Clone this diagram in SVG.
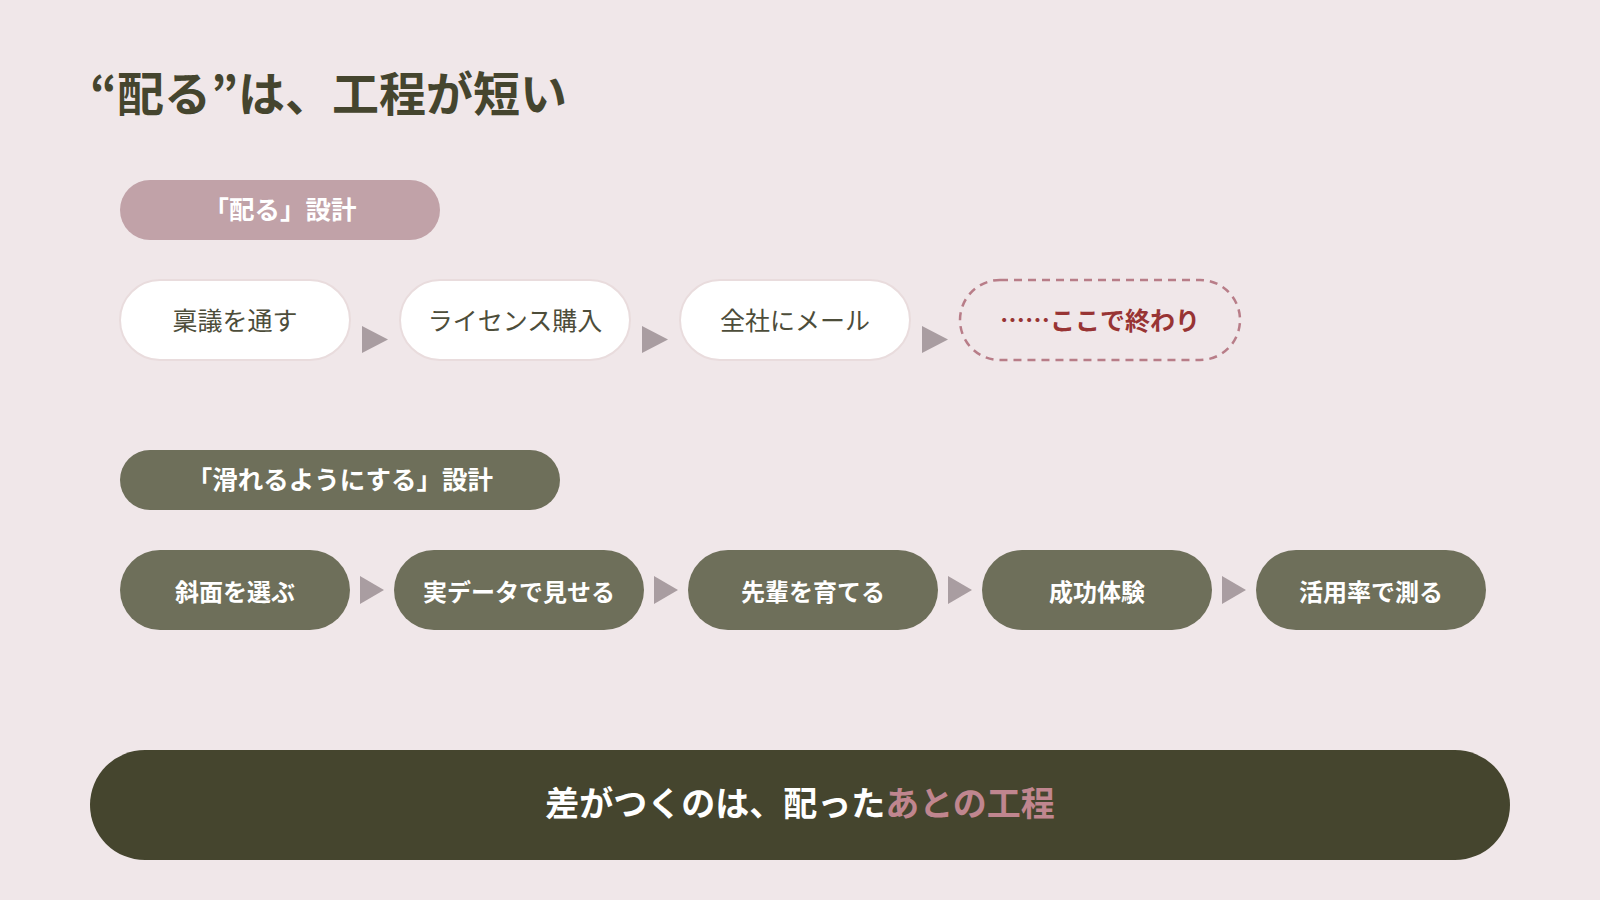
<svg xmlns="http://www.w3.org/2000/svg" width="1600" height="900" viewBox="0 0 1600 900">
  <style>
    text { font-family: "Noto Sans CJK JP", "Noto Sans", sans-serif; }
    .title { font-size: 47px; font-weight: 700; fill: #45452e; }
    .tag { font-size: 25.5px; font-weight: 700; fill: #ffffff; text-anchor: middle; }
    .n1 { fill: #ffffff; stroke: #e9dcdd; stroke-width: 2; }
    .n1t { font-size: 25px; font-weight: 400; fill: #4d4d3a; text-anchor: middle; }
    .end { fill: none; stroke: #b87d88; stroke-width: 2.5; stroke-dasharray: 8 6; }
    .endt { font-size: 25px; font-weight: 700; fill: #983434; text-anchor: middle; }
    .n2 { fill: #6e6f5a; }
    .n2t { font-size: 24px; font-weight: 700; fill: #ffffff; text-anchor: middle; }
    .arr { fill: #a99da1; }
    .bar { fill: #45452e; }
    .bart { font-size: 34px; font-weight: 700; fill: #ffffff; text-anchor: middle; }
  </style>
  <rect x="0" y="0" width="1600" height="900" fill="#f0e7e9"/>

  <g id="title">
    <text class="title" x="90" y="111">“配る”は、工程が短い</text>
  </g>

  <g id="tag-distribute">
    <rect x="120" y="180" width="320" height="60" rx="30" fill="#c1a2a8"/>
    <text class="tag" x="280" y="219">「配る」設計</text>
  </g>

  <g id="node-ringi">
    <rect class="n1" x="120" y="280" width="230" height="80" rx="40"/>
    <text class="n1t" x="235" y="330">稟議を通す</text>
  </g>
  <g id="node-license">
    <rect class="n1" x="400" y="280" width="230" height="80" rx="40"/>
    <text class="n1t" x="515" y="330">ライセンス購入</text>
  </g>
  <g id="node-mail">
    <rect class="n1" x="680" y="280" width="230" height="80" rx="40"/>
    <text class="n1t" x="795" y="330">全社にメール</text>
  </g>
  <g id="node-end">
    <rect class="end" x="960" y="280" width="280" height="80" rx="40"/>
    <text class="endt" x="1100" y="330">……ここで終わり</text>
  </g>

  <g id="tag-slide">
    <rect x="120" y="450" width="440" height="60" rx="30" fill="#6e6f5a"/>
    <text class="tag" x="340" y="489">「滑れるようにする」設計</text>
  </g>

  <g id="node-slope">
    <rect class="n2" x="120" y="550" width="230" height="80" rx="40"/>
    <text class="n2t" x="235" y="600.5">斜面を選ぶ</text>
  </g>
  <g id="node-data">
    <rect class="n2" x="394" y="550" width="250" height="80" rx="40"/>
    <text class="n2t" x="519" y="600.5">実データで見せる</text>
  </g>
  <g id="node-senior">
    <rect class="n2" x="688" y="550" width="250" height="80" rx="40"/>
    <text class="n2t" x="813" y="600.5">先輩を育てる</text>
  </g>
  <g id="node-success">
    <rect class="n2" x="982" y="550" width="230" height="80" rx="40"/>
    <text class="n2t" x="1097" y="600.5">成功体験</text>
  </g>
  <g id="node-measure">
    <rect class="n2" x="1256" y="550" width="230" height="80" rx="40"/>
    <text class="n2t" x="1371" y="600.5">活用率で測る</text>
  </g>

  <g id="connectors">
    <polygon class="arr" points="362,326 362,353 388,339.5"/>
    <polygon class="arr" points="642,326 642,353 668,339.5"/>
    <polygon class="arr" points="922,326 922,353 948,339.5"/>
    <polygon class="arr" points="360,576 360,604 384,590"/>
    <polygon class="arr" points="654,576 654,604 678,590"/>
    <polygon class="arr" points="948,576 948,604 972,590"/>
    <polygon class="arr" points="1222,576 1222,604 1246,590"/>
  </g>

  <g id="summary">
    <rect class="bar" x="90" y="750" width="1420" height="110" rx="55"/>
    <text class="bart" x="800" y="816">差がつくのは、配った<tspan fill="#c0868f">あとの工程</tspan></text>
  </g>
</svg>
